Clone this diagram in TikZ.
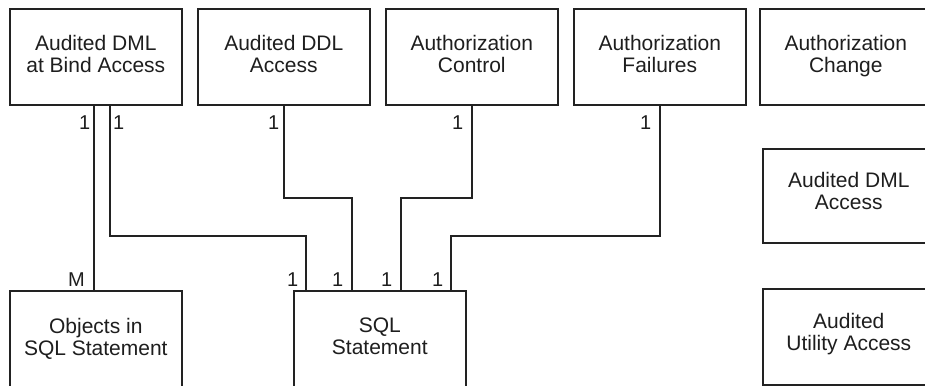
\documentclass[tikz,border=0pt]{standalone}
\usepackage{fontspec}
\setmainfont{Liberation Sans}
\begin{document}
\begin{tikzpicture}[x=1pt,y=-1pt,
  ent/.style={draw=linec, line width=1.6pt, minimum width=172pt, minimum height=96pt, inner sep=0pt, anchor=north west},
  enttext/.style={anchor=north, align=center, inner sep=0pt, text=txtc, font=\fontsize{21}{22}\selectfont},
  conn/.style={draw=linec, line width=1.6pt},
  card/.style={inner sep=0pt, text=txtc, font=\fontsize{20}{22}\selectfont}]
\definecolor{linec}{HTML}{222222}
\definecolor{txtc}{HTML}{1E1E1E}
\useasboundingbox (0,0) rectangle (925,385);
\clip (0,0) rectangle (925,385);
\fill[white] (0,0) rectangle (925,385);
% entity boxes
\node[ent] (dmlbind) at (9,8) {};
\node[ent] (ddl) at (197,8) {};
\node[ent] (authctl) at (385,8) {};
\node[ent] (authfail) at (573,8) {};
\node[ent] (authchg) at (759,8) {};
\node[ent, minimum height=94pt] (dml) at (762,148) {};
\node[ent] (util) at (762,288) {};
\node[ent] (objects) at (9,290) {};
\node[ent] (sql) at (293,290) {};
% texts
\node[enttext] (t1) at ([yshift=-27pt]dmlbind.north) {Audited DML\\at Bind Access};
\node[enttext] (t2) at ([yshift=-27pt]ddl.north) {Audited DDL\\Access};
\node[enttext] (t3) at ([yshift=-27pt]authctl.north) {Authorization\\Control};
\node[enttext] (t4) at ([yshift=-27pt]authfail.north) {Authorization\\Failures};
\node[enttext] (t5) at ([yshift=-27pt]authchg.north) {Authorization\\Change};
\node[enttext] (t6) at ([yshift=-24pt]dml.north) {Audited DML\\Access};
\node[enttext] (t7) at ([yshift=-25pt]util.north) {Audited\\Utility Access};
\node[enttext] (t8) at ([yshift=-28pt]objects.north) {Objects in\\SQL Statement};
\node[enttext] (t9) at ([yshift=-28pt]sql.north) {SQL\\Statement};
% routing levels
\coordinate (hhigh) at (0,198);
\coordinate (hlow) at (0,236);
% connectors
\draw[conn] ([xshift=-2pt]dmlbind.south) -- ([xshift=-2pt]dmlbind.south |- objects.north);
\draw[conn] ([xshift=14pt]dmlbind.south) -- ([xshift=14pt]dmlbind.south |- hlow) -| ([xshift=13pt]sql.north west);
\draw[conn] (ddl.south) -- (ddl.south |- hhigh) -| ([xshift=59pt]sql.north west);
\draw[conn] (authctl.south) -- (authctl.south |- hhigh) -| ([xshift=108pt]sql.north west);
\draw[conn] (authfail.south) -- (authfail.south |- hlow) -| ([xshift=158pt]sql.north west);
% cardinalities
\node[card, anchor=base east] (c1) at (90.5,129) {1};
\node[card, anchor=base west] (c2) at (113,129) {1};
\node[card, anchor=base east] (c3) at (279.5,129) {1};
\node[card, anchor=base east] (c4) at (463.5,129) {1};
\node[card, anchor=base east] (c5) at (651.5,129) {1};
\node[card, anchor=base east] (c6) at (85,286) {M};
\node[card, anchor=base east] (c7) at (298.5,286) {1};
\node[card, anchor=base east] (c8) at (343.5,286) {1};
\node[card, anchor=base east] (c9) at (392.5,286) {1};
\node[card, anchor=base east] (c10) at (443.5,286) {1};
\end{tikzpicture}
\end{document}
